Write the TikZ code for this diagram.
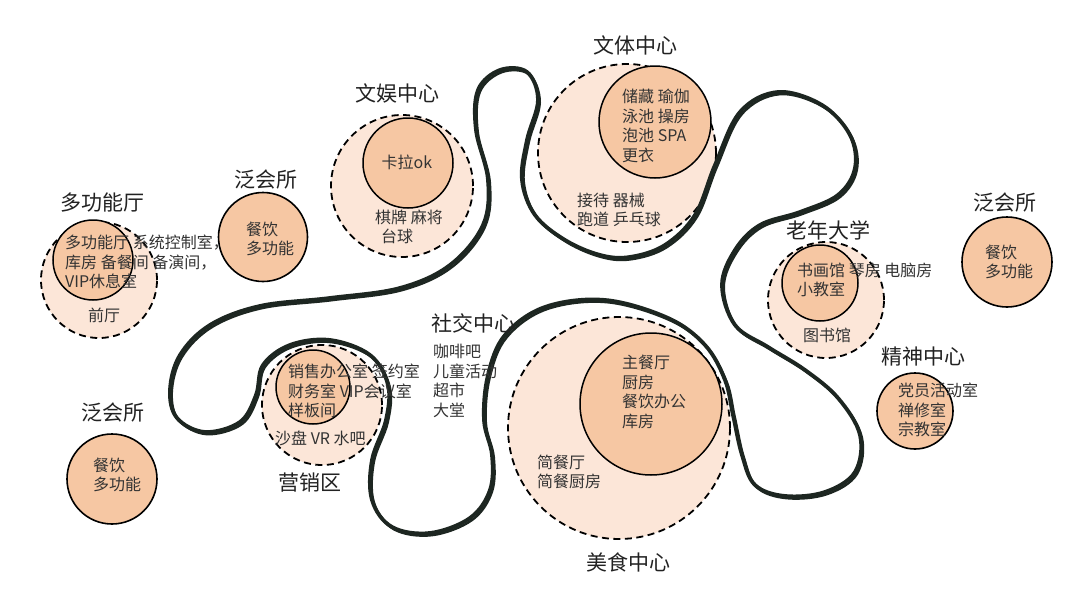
\documentclass[tikz,border=0pt]{standalone}
\usepackage{fontspec}
\setmainfont{Noto Sans CJK SC}
\definecolor{outerfill}{HTML}{FCE6D8}
\definecolor{innerfill}{HTML}{F6C7A3}
\definecolor{roadcol}{HTML}{1D2621}
\definecolor{titlecol}{HTML}{222222}
\definecolor{labcol}{HTML}{333333}
\tikzset{
  outerc/.style={circle, draw=black, dash pattern=on 7pt off 4.5pt, line width=1.8pt, fill=outerfill, inner sep=0pt, minimum size=#1},
  innerc/.style={circle, draw=black, line width=1.5pt, fill=innerfill, inner sep=0pt, minimum size=#1},
  plainc/.style={circle, draw=black, line width=1.6pt, fill=innerfill, inner sep=0pt, minimum size=#1},
  ttl/.style={font=\fontsize{21}{24}\selectfont, text=titlecol, inner sep=0pt},
  lab/.style={font=\fontsize{16}{19.5}\selectfont, text=labcol, align=left, inner sep=0pt, anchor=west},
  labc/.style={font=\fontsize{16}{19.5}\selectfont, text=labcol, inner sep=0pt},
  road/.style={draw=roadcol, line width=3.8pt, line join=round},
  roadb/.style={draw=roadcol, line width=2.4pt, line join=round}
}
\begin{document}
\begin{tikzpicture}[x=1pt,y=-1pt]
\useasboundingbox (0,0) rectangle (1080,608);
\fill[white] (0,0) rectangle (1080,608);

% circles
\node[outerc=116pt] (dgnO) at (99,280) {};
\node[innerc=80pt] (dgnI) at (93,260) {};
\node[plainc=89pt] (fhsA) at (263,237) {};
\node[outerc=142pt] (wyO) at (402,186) {};
\node[innerc=90pt] (wyI) at (408,163) {};
\node[outerc=178pt] (wtO) at (627,153) {};
\node[innerc=112pt] (wtI) at (655,122) {};
\node[outerc=116pt] (lnO) at (826,300) {};
\node[innerc=76pt] (lnI) at (820,283) {};
\node[plainc=90pt] (fhsB) at (1007,262) {};
\node[plainc=76pt] (jsC) at (915,411) {};
\node[outerc=222pt] (msO) at (619,428) {};
\node[innerc=142pt] (msI) at (651,404) {};
\node[outerc=120pt] (yxO) at (322,405) {};
\node[innerc=74pt] (yxI) at (313,387) {};
\node[plainc=90pt] (fhsC) at (112,479) {};

% road
\def\roadpts{(630,257) (665,245) (695,215) (715,165) (740,112) (778,92) (822,105) (850,135) (855,168) (838,195) (800,212) (760,225) (735,250) (722,285) (735,325) (768,347) (805,370) (838,398) (860,435) (855,472) (825,492) (785,496) (755,485) (742,455) (733,415) (725,380) (705,345) (668,318) (605,300) (545,307) (505,335) (488,375) (484,420) (492,455) (490,490) (470,518) (430,533) (392,527) (372,500) (372,460) (386,420) (388,385) (370,355) (330,340) (290,345) (263,365) (256,395) (240,422) (205,432) (177,418) (170,390) (180,355) (210,325) (260,306) (330,298) (400,288) (450,265) (483,225) (488,180) (476,130) (478,90) (500,70) (527,72) (538,100) (527,140) (522,180) (535,215) (565,240) (600,255)}
\draw[road] plot[smooth cycle, tension=0.6] coordinates {\roadpts};
\draw[roadb, shift={(1.8,2.2)}] plot[smooth cycle, tension=0.6] coordinates {\roadpts};

% titles
\node[ttl] (t1) at (102,203) {多功能厅};
\node[ttl] (t2) at (266,180) {泛会所};
\node[ttl] (t3) at (397,93) {文娱中心};
\node[ttl] (t4) at (635,45) {文体中心};
\node[ttl] (t5) at (828,230) {老年大学};
\node[ttl] (t6) at (1005,203) {泛会所};
\node[ttl] (t7) at (923,357) {精神中心};
\node[ttl] (t8) at (473,323) {社交中心};
\node[ttl] (t9) at (310,483) {营销区};
\node[ttl] (t10) at (628,562) {美食中心};
\node[ttl] (t11) at (113,413) {泛会所};

% labels
\node[lab] (l1) at (65,262) {多功能厅 系统控制室，\\库房 备餐间 备演间，\\VIP休息室};
\node[labc] (l2) at (104,315) {前厅};
\node[lab] (l3) at (246,239) {餐饮\\多功能};
\node[labc] (l4) at (407,162) {卡拉ok};
\node[lab] (l5) at (375,227) {棋牌 麻将\\\hspace{6pt}台球};
\node[lab] (l6) at (622,126) {储藏 瑜伽\\泳池 操房\\泡池 SPA\\更衣};
\node[lab] (l7) at (577,210) {接待 器械\\跑道 乒乓球};
\node[lab] (l8) at (797,280) {书画馆 琴房 电脑房\\小教室};
\node[labc] (l9) at (827,335) {图书馆};
\node[lab] (l10) at (985,262) {餐饮\\多功能};
\node[lab] (l11) at (898,410) {党员活动室\\禅修室\\宗教室};
\node[lab] (l12) at (622,392) {主餐厅\\厨房\\餐饮办公\\库房};
\node[lab] (l13) at (537,472) {简餐厅\\简餐厨房};
\node[lab] (l14) at (288,391) {销售办公室 签约室\\财务室 VIP会议室\\样板间};
\node[lab] (l15) at (275,438) {沙盘 VR 水吧};
\node[lab] (l16) at (433,381) {咖啡吧\\儿童活动\\超市\\大堂};
\node[lab] (l17) at (93,475) {餐饮\\多功能};
\end{tikzpicture}
\end{document}
